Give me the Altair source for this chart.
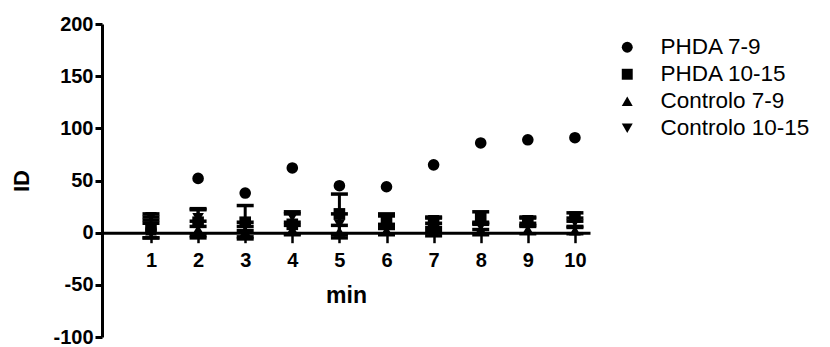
import altair as alt
import pandas as pd

minutes = [1, 2, 3, 4, 5, 6, 7, 8, 9, 10]
series_names = ["PHDA 7-9", "PHDA 10-15", "Controlo 7-9", "Controlo 10-15"]
phda_7_9 = [3, 52, 38, 62, 45, 44, 65, 86, 89, 91]
phda_7_9_sem = [0, 0, 0, 0, 0, 0, 0, 0, 0, 0]
phda_10_15 = [5, 10, 10, 8, 18, 10, 8, 15, 10, 15]
phda_10_15_sem = [10, 13, 16, 10, 19, 6, 6, 5, 4, 4]
ctrl_7_9 = [2, 3, 1, 3, 1, 2, 1, 3, 3, 2]
ctrl_7_9_sem = [7, 8, 5, 4, 6, 4, 4, 5, 4, 3]
ctrl_10_15 = [15, 14, 6, 15, 8, 13, 12, 6, 12, 10]
ctrl_10_15_sem = [3, 8, 4, 5, 10, 5, 3, 3, 3, 4]
y_ticks = [-100, -50, 0, 50, 100, 150, 200]

rows = []
for name, vals, sems in zip(
    series_names,
    [phda_7_9, phda_10_15, ctrl_7_9, ctrl_10_15],
    [phda_7_9_sem, phda_10_15_sem, ctrl_7_9_sem, ctrl_10_15_sem],
):
    for m, v, s in zip(minutes, vals, sems):
        rows.append({"min": m, "ID": v, "lo": v - s, "hi": v + s, "sem": s, "serie": name})
df = pd.DataFrame(rows)

FONT = "Liberation Sans"
xscale = alt.Scale(domain=[-0.04, 10.32], nice=False, zero=False)
yscale = alt.Scale(domain=[-100, 200], nice=False)

base = alt.Chart(df)
err = base.transform_filter(alt.datum.sem > 0)

rules = err.mark_rule(color="black", strokeWidth=3).encode(
    x=alt.X("min:Q", scale=xscale),
    y=alt.Y("lo:Q", scale=yscale),
    y2="hi:Q",
)
cap_hi = err.mark_tick(color="black", opacity=1, thickness=3.5, size=17, orient="horizontal").encode(
    x=alt.X("min:Q", scale=xscale), y=alt.Y("hi:Q", scale=yscale)
)
cap_lo = err.mark_tick(color="black", opacity=1, thickness=3.5, size=17, orient="horizontal").encode(
    x=alt.X("min:Q", scale=xscale), y=alt.Y("lo:Q", scale=yscale)
)

points = base.mark_point(filled=True, color="black", opacity=1, size=135).encode(
    x=alt.X(
        "min:Q",
        scale=xscale,
        axis=alt.Axis(
            values=minutes,
            title="min",
            offset=-104.3,
            domainWidth=3,
            domainColor="black",
            tickColor="black",
            tickWidth=2.5,
            tickSize=10,
            labelFont=FONT,
            labelFontSize=20,
            labelFontWeight="bold",
            labelColor="black",
            labelPadding=8,
            titleFont=FONT,
            titleFontSize=23,
            titleFontWeight="bold",
            titleColor="black",
            titlePadding=14,
            grid=False,
        ),
    ),
    y=alt.Y(
        "ID:Q",
        scale=yscale,
        axis=alt.Axis(
            values=y_ticks,
            labelExpr="'' + datum.value",
            title="ID",
            domainWidth=3,
            domainColor="black",
            tickColor="black",
            tickWidth=3,
            tickSize=7,
            labelFont=FONT,
            labelFontSize=20,
            labelFontWeight="bold",
            labelColor="black",
            labelPadding=2,
            titleFont=FONT,
            titleFontSize=22,
            titleFontWeight="bold",
            titleColor="black",
            titlePadding=19,
            grid=False,
        ),
    ),
    shape=alt.Shape(
        "serie:N",
        scale=alt.Scale(domain=series_names, range=["circle", "square", "triangle-up", "triangle-down"]),
        legend=alt.Legend(
            title=None,
            orient="none",
            legendX=514,
            legendY=12,
            labelFont=FONT,
            labelFontSize=22.5,
            labelColor="black",
            labelOffset=22,
            symbolSize=120,
            symbolFillColor="black",
            symbolStrokeColor="black",
            rowPadding=4,
            padding=0,
        ),
    ),
)

chart = (
    alt.layer(rules, cap_hi, cap_lo, points)
    .properties(
        width=488,
        height=313,
        background="white",
        autosize=alt.AutoSizeParams(type="none"),
        padding={"left": 94, "top": 16, "right": 232, "bottom": 10},
    )
    .configure_view(stroke=None, strokeWidth=0)
)

chart.save("out.html", embed_options={"renderer": "svg", "actions": False})
